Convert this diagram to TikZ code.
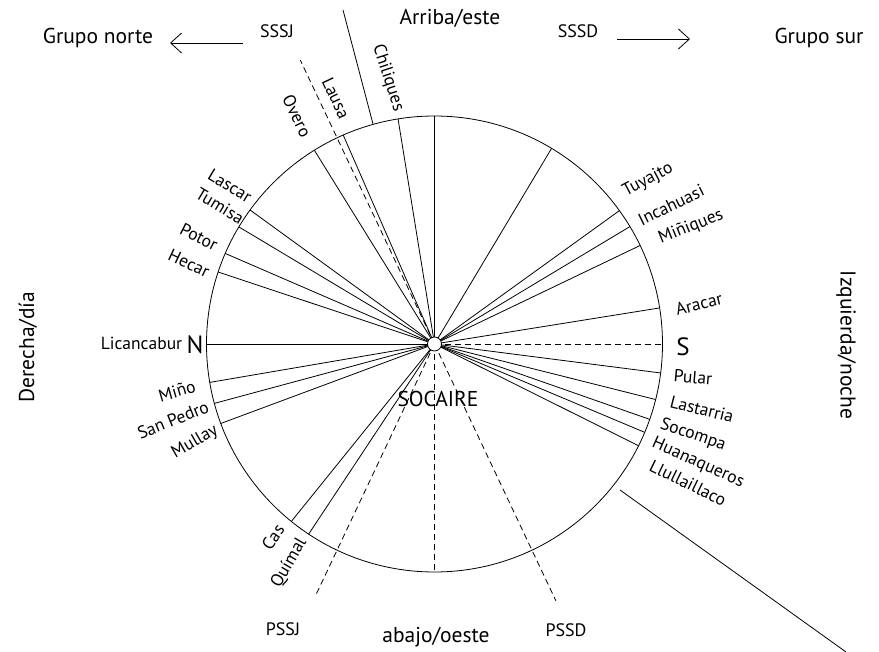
\documentclass[tikz,border=0pt]{standalone}
\usepackage{fontspec}
\setmainfont{PT Sans}
\usetikzlibrary{arrows.meta}
\begin{document}
\begin{tikzpicture}[x=1pt,y=-1pt,
  lbl/.style={font=\fontsize{17.5}{19}\selectfont, inner sep=0pt},
  hd/.style={font=\fontsize{21.5}{23}\selectfont, inner sep=0pt},
  sm/.style={font=\fontsize{18}{20}\selectfont, inner sep=0pt},
  big/.style={font=\fontsize{25}{27}\selectfont, inner sep=0pt},
  ray/.style={line width=0.8pt},
  dray/.style={line width=0.8pt, dash pattern=on 6pt off 4pt},
  arr/.style={line width=0.8pt, -{Straight Barb[length=11pt,width=20pt]}}]
\useasboundingbox (0,0) rectangle (879,652);
\fill[white] (0,0) rectangle (879,652);
\coordinate (c) at (434.5,344);
\draw[ray] (c) circle[radius=228];
\begin{scope}[shift={(c)}, yscale=-1]
  \foreach \a [count=\i] in {90,99.2,113.6,121.8,144,149.1,156.6,161.6,180,189.7,195.1,200.4,231.1,236.5,59.1,35.8,31,25.6,9.1,-7.3,-14.1,-19.3,-22.8,-26.5}
    {\coordinate (s\i) at (\a:228); \draw[ray] (c) -- (s\i);}
  \coordinate (dS) at (0:228);
  \coordinate (dB) at (270:228);
  \coordinate (dT) at (115.3:314);
  \coordinate (dR) at (295.3:284);
  \coordinate (dL) at (244.7:280);
  \foreach \e in {dS,dB,dT,dR,dL} {\draw[dray] (c) -- (\e);}
\end{scope}
\coordinate (t1) at (343,10);
\coordinate (t2) at (373,124);
\draw[ray] (t2) -- (t1);
\coordinate (b1) at (620,490);
\coordinate (b2) at (846,652);
\draw[ray] (b1) -- (b2);
\node[circle, draw, fill=white, minimum size=14pt, inner sep=0pt, line width=0.8pt] (soc) at (c) {};

% headings
\node[hd] (gn) at (98,38) {Grupo norte};
\node[hd] (gs) at (819,38) {Grupo sur};
\node[hd] (ae) at (450,18) {Arriba/este};
\node[hd] (ao) at (436,637) {abajo/oeste};
\node[hd, rotate=90] (dd) at (28,347) {Derecha/día};
\node[hd, rotate=-90] (iz) at (846,345) {Izquierda/noche};
\node[sm] (sssj) at (277,31) {SSSJ};
\node[sm] (sssd) at (578,31) {SSSD};
\node[sm] (pssj) at (283,629) {PSSJ};
\node[sm] (pssd) at (566,630) {PSSD};
\node[hd] (soca) at (438,399) {SOCAIRE};
\node[big] (nn) at (195,345) {N};
\node[big] (ss) at (683,347) {S};
\coordinate (a1s) at (243,43);
\coordinate (a1e) at (170,43);
\draw[arr] (a1s) -- (a1e);
\coordinate (a2s) at (617,39);
\coordinate (a2e) at (690,39);
\draw[arr] (a2s) -- (a2e);

% labels
\node[lbl, rotate=-72] (l1) at (388,78) {Chiliques};
\node[lbl, rotate=-65] (l2) at (336,98) {Lausa};
\node[lbl, rotate=-64] (l3) at (297,116) {Overo};
\node[lbl, rotate=-31] (l4) at (230,186) {Lascar};
\node[lbl, rotate=-31] (l5) at (220,206) {Tumisa};
\node[lbl, rotate=-27] (l6) at (199,237) {Potor};
\node[lbl, rotate=-25] (l7) at (189,263) {Hecar};
\node[lbl] (l8) at (141.5,343) {Licancabur};
\node[lbl, rotate=16] (l9) at (177,391) {Miño};
\node[lbl, rotate=22] (l10) at (173,420) {San Pedro};
\node[lbl, rotate=30] (l11) at (195,442) {Mullay};
\node[lbl, rotate=55] (l12) at (273,537) {Cas};
\node[lbl, rotate=60] (l13) at (289,563) {Químal};
\node[lbl, rotate=28] (r1) at (648,180) {Tuyajto};
\node[lbl, rotate=26] (r2) at (671,205) {Incahuasi};
\node[lbl, rotate=22] (r3) at (691,227) {Miñiques};
\node[lbl, rotate=14] (r4) at (699,304) {Aracar};
\node[lbl, rotate=-5] (r5) at (693,377) {Pular};
\node[lbl, rotate=-14] (r6) at (702,409) {Lastarria};
\node[lbl, rotate=-19] (r7) at (693,435) {Socompa};
\node[lbl, rotate=-24] (r8) at (698,463) {Huanaqueros};
\node[lbl, rotate=-26] (r9) at (688,483) {Llullaillaco};
\end{tikzpicture}
\end{document}
